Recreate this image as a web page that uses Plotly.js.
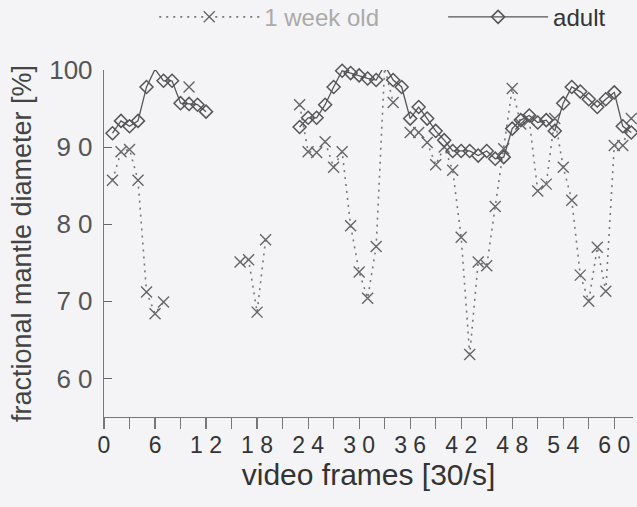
<!DOCTYPE html>
<html>
<head>
<meta charset="utf-8">
<script src="https://cdn.plot.ly/plotly-3.0.1.min.js"></script>
<style>
html,body{margin:0;padding:0;background:#f4f4f7;}
#chart{width:637px;height:507px;}
</style>
</head>
<body>
<div id="chart"></div>
<script>
// video frame numbers
const frames = [1,2,3,4,5,6,7,8,9,10,11,12,13,14,15,16,17,18,19,20,21,22,23,24,25,26,27,28,29,30,31,32,33,34,35,36,37,38,39,40,41,42,43,44,45,46,47,48,49,50,51,52,53,54,55,56,57,58,59,60,61,62];

// 1 week old (null = not visible in the figure)
const weekOld = [85.7,89.4,89.7,85.7,71.2,68.4,69.9,null,null,97.8,null,null,null,null,null,75.1,75.4,68.6,78.0,null,null,null,95.5,89.4,89.3,90.7,87.4,89.4,79.8,73.8,70.4,77.1,100.3,95.8,null,91.9,91.9,90.6,87.7,90.0,87.0,78.3,63.1,75.1,74.6,82.3,89.8,97.6,93.0,93.5,84.3,85.2,93.7,87.4,83.1,73.4,70.0,77.0,71.3,90.2,90.2,93.7];

// adult
const adult = [91.8,93.4,92.7,93.4,97.8,100.1,98.6,98.6,95.7,95.6,95.5,94.6,null,null,null,null,null,null,null,null,null,null,92.6,93.8,93.8,95.5,97.8,99.9,99.6,99.3,98.9,98.7,100.6,98.7,97.8,93.7,95.2,93.7,92.1,90.9,89.5,89.5,89.5,88.9,89.5,88.5,88.7,92.4,93.5,94.1,93.2,93.5,92.1,95.7,97.8,97.2,96.2,95.2,96.2,97.1,92.7,91.9];

// axis ticks
const xTickVals = [0,3,6,9,12,15,18,21,24,27,30,33,36,39,42,45,48,51,54,57,60];
const xTickText = ['0','','6','','1 2','','1 8','','2 4','','3 0','','3 6','','4 2','','4 8','','5 4','','6 0'];
const yTickVals = [60,70,80,90,100];
const yTickText = ['6 0','7 0','8 0','9 0','100'];

const traces = [
  {
    x: frames, y: weekOld, name: '<span style="color:#aaaaaa">1 week old</span>',
    type: 'scatter', mode: 'lines+markers', cliponaxis: false, legend: 'legend',
    line: {color: '#777777', width: 1.6, dash: '2px,5px'},
    marker: {symbol: 'x-thin-open', size: 11, color: '#666666', line: {color: '#666666', width: 1.4}}
  },
  {
    x: frames, y: adult, name: 'adult',
    type: 'scatter', mode: 'lines+markers', cliponaxis: false, legend: 'legend2',
    line: {color: '#555555', width: 1.3},
    marker: {symbol: 'diamond-open', size: 10, color: '#555555', line: {color: '#555555', width: 1.5}}
  }
];

const legendCommon = {
  orientation: 'h', xanchor: 'left', y: 1.152, yanchor: 'middle',
  font: {size: 24, color: '#333333'}, itemwidth: 100, bgcolor: 'rgba(0,0,0,0)'
};

const layout = {
  width: 637, height: 507,
  paper_bgcolor: '#f4f4f7', plot_bgcolor: '#f4f4f7',
  margin: {l: 104, r: 4, t: 70, b: 90, autoexpand: false},
  font: {family: 'Liberation Sans, Arial, sans-serif', color: '#444444'},
  showlegend: true,
  legend: Object.assign({}, legendCommon, {x: 0.095}),
  legend2: Object.assign({}, legendCommon, {x: 0.641}),
  xaxis: {
    range: [0, 62.2], showgrid: false, zeroline: false,
    showline: true, linecolor: '#777777', linewidth: 1.2,
    tickmode: 'array', tickvals: xTickVals, ticktext: xTickText,
    ticks: 'outside', ticklen: 11, tickcolor: '#777777', tickwidth: 1.2,
    ticklabelstandoff: -4,
    tickfont: {size: 23, color: '#333333'},
    title: {text: 'video frames [30/s]', font: {size: 30, color: '#333333'}, standoff: 0}
  },
  yaxis: {
    range: [55, 100], showgrid: false, zeroline: false,
    showline: true, linecolor: '#777777', linewidth: 1.2,
    tickmode: 'array', tickvals: yTickVals, ticktext: yTickText,
    ticks: 'inside', ticklen: 8, tickcolor: '#666666', tickwidth: 1.2,
    ticklabelstandoff: 5,
    tickfont: {size: 26, color: '#555555'},
    title: {text: 'fractional mantle diameter [%]', font: {size: 27, color: '#444444'}, standoff: 9}
  }
};

Plotly.newPlot('chart', traces, layout, {displayModeBar: false, staticPlot: true});
</script>
</body>
</html>
